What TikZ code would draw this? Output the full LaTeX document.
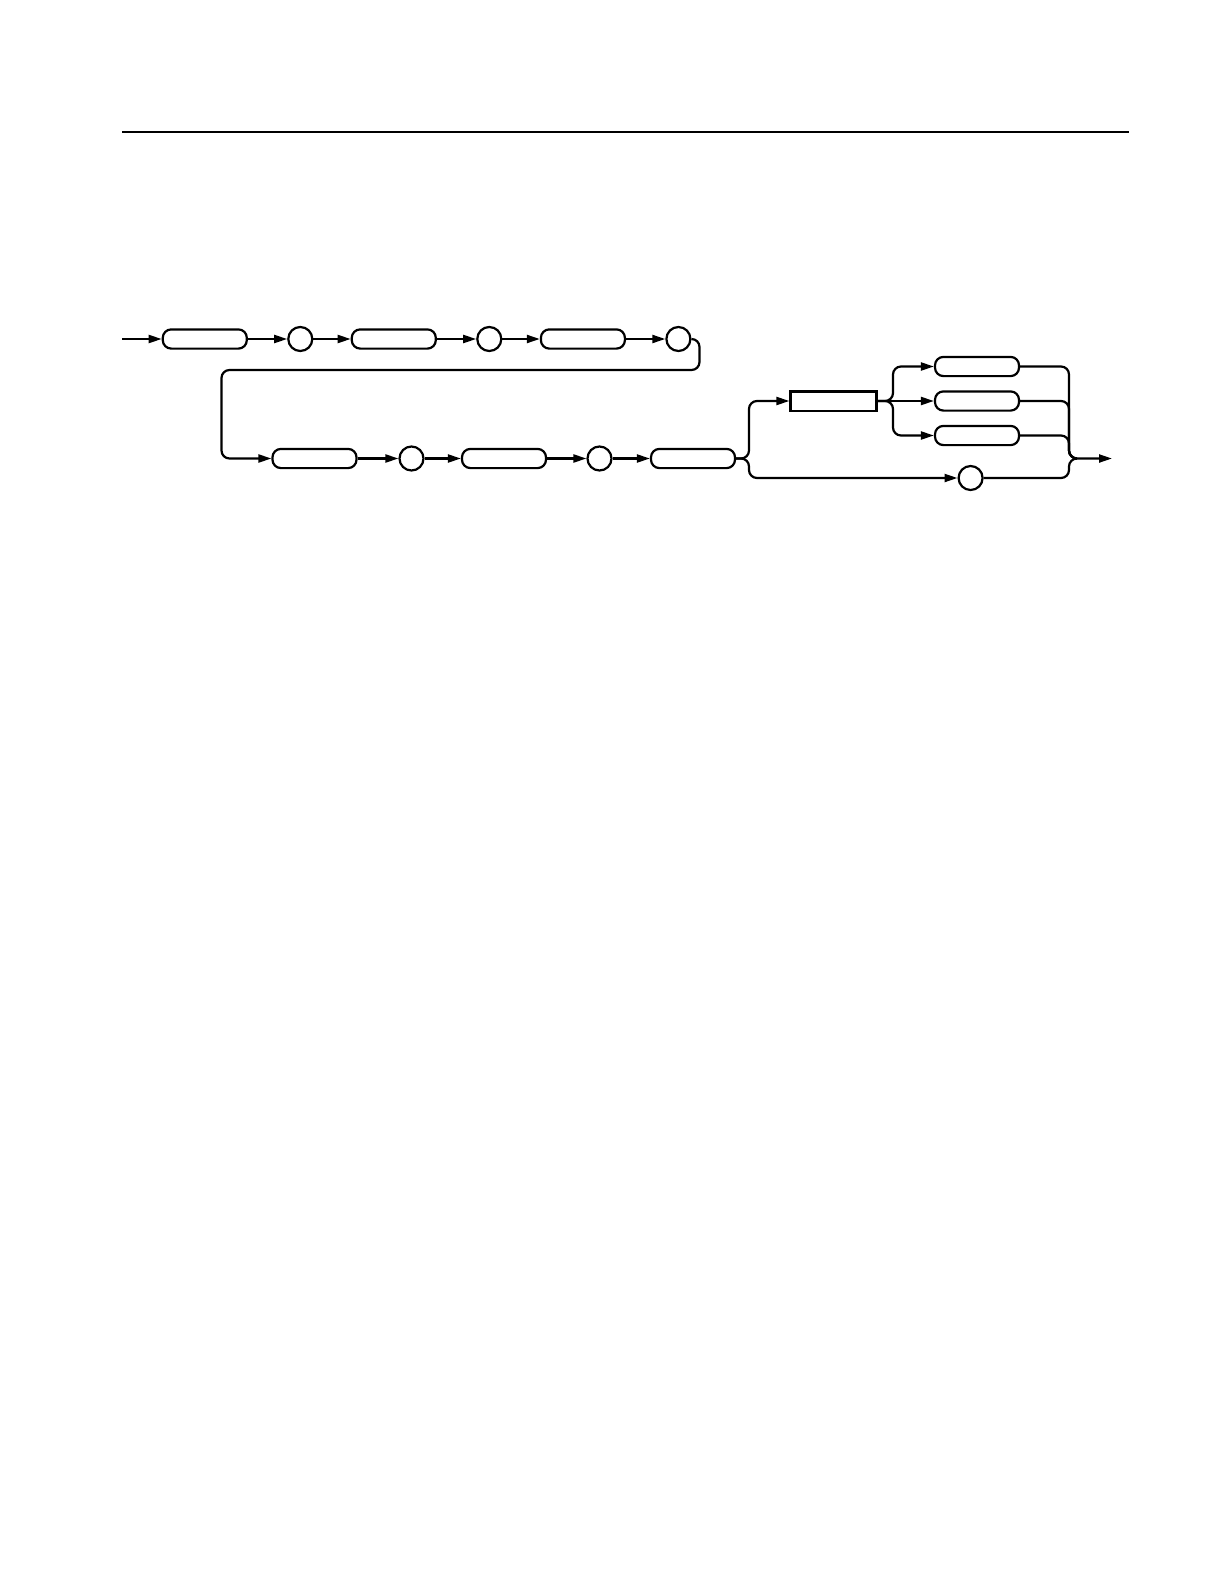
\documentclass[tikz,border=0pt]{standalone}
\usetikzlibrary{arrows.meta}
\begin{document}
\begin{tikzpicture}[x=0.5pt,y=-0.5pt,
  conn/.style={line width=1.1pt,rounded corners=4pt},
  arr/.style={conn,-{Triangle[length=6.5pt,width=4pt]}},
  pill/.style={draw,line width=1.1pt,rounded corners=4.2pt,minimum width=42pt,minimum height=9.6pt,inner sep=0pt},
  sbox/.style={draw,line width=1.1pt,minimum width=43pt,minimum height=9.6pt,inner sep=0pt},
  ring/.style={draw,circle,line width=1.1pt,minimum size=12pt,inner sep=0pt}]
\useasboundingbox (0,0) rectangle (1224,1584);
\draw[line width=1pt] (122,132.4) -- (1129,132.4);
% row 1
\coordinate (entry) at (122,339);
\node[pill] (b1) at (204.8,339) {};
\node[ring] (c1) at (300.3,339) {};
\node[pill] (b2) at (393.8,339) {};
\node[ring] (c2) at (489.3,339) {};
\node[pill] (b3) at (582.9,339) {};
\node[ring] (c3) at (678.4,339) {};
% row 2
\node[pill] (b4) at (314.5,458.5) {};
\node[ring] (c4) at (411.5,458.5) {};
\node[pill] (b5) at (504,458.5) {};
\node[ring] (c5) at (599.5,458.5) {};
\node[pill] (b6) at (693,458.5) {};
% right part
\node[sbox] (r1) at (833.5,401) {};
\node[pill] (t1) at (977,366.5) {};
\node[pill] (t2) at (977,401) {};
\node[pill] (t3) at (977,435.5) {};
\node[ring] (c6) at (970.6,478) {};
\coordinate (m) at (1077,458.5);
\coordinate (exit) at (1112,458.5);
% connectors row 1
\draw[arr] (entry) -- (b1);
\draw[arr] (b1) -- (c1);
\draw[arr] (c1) -- (b2);
\draw[arr] (b2) -- (c2);
\draw[arr] (c2) -- (b3);
\draw[arr] (b3) -- (c3);
% return
\draw[arr] (c3.east) -- (699.5,339) -- (699.5,370) -- (221.5,370) -- (221.5,458.5) -- (b4.west);
% row 2
\draw[arr] (b4) -- (c4);
\draw[arr] (c4) -- (b5);
\draw[arr] (b5) -- (c5);
\draw[arr] (c5) -- (b6);
% split
\draw[arr] (b6.east) -- (749,458.5) -- (749,401) -- (r1.west);
\draw[arr] (b6.east) -- (749,458.5) -- (749,478) -- (c6.west);
% three-way
\draw[arr] (r1.east) -- (893,401) -- (893,366.5) -- (t1.west);
\draw[arr] (r1.east) -- (t2.west);
\draw[arr] (r1.east) -- (893,401) -- (893,435.5) -- (t3.west);
% merge
\draw[arr] (t1.east) -- (1069,366.5) -- (1069,458.5) -- (exit);
\draw[conn] (t2.east) -- (1069,401) -- (1069,458.5) -- (m);
\draw[conn] (t3.east) -- (1069,435.5) -- (1069,458.5) -- (m);
\draw[conn] (c6.east) -- (1069,478) -- (1069,458.5) -- (m);
\end{tikzpicture}
\end{document}
